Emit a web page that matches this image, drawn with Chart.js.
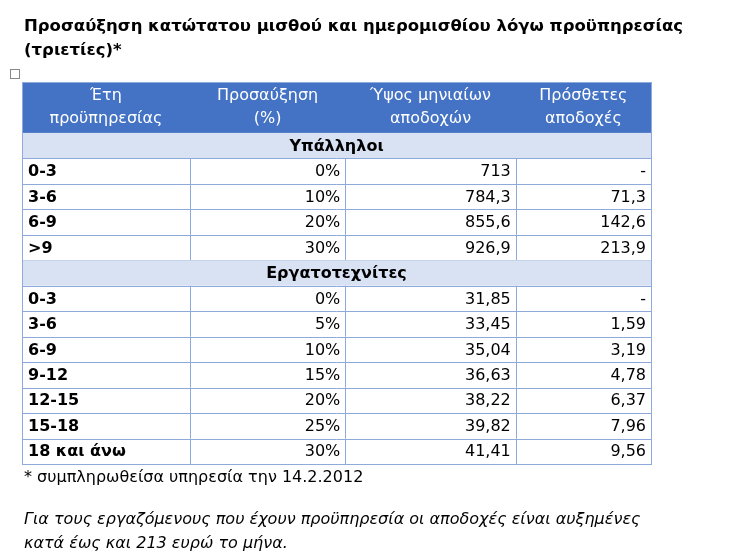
<!DOCTYPE html>
<html>
<head>
<meta charset="utf-8">
<script src="https://cdn.jsdelivr.net/npm/chart.js@4/dist/chart.umd.min.js"></script>
<style>
  body { margin: 0; background: #fff; font-family: "DejaVu Sans", sans-serif; }
  #wrap { position: relative; width: 741px; height: 554px; }
  canvas { position: absolute; left: 0; top: 0; }
  .t { position: absolute; left: 24px; color: #000; white-space: nowrap; }
</style>
</head>
<body>
<div id="wrap">
  <canvas id="tbl" width="741" height="554"></canvas>
  <div class="t" style="top:16px;font-weight:bold;font-size:16.5px;">Προσαύξηση κατώτατου μισθού και ημερομισθίου λόγω προϋπηρεσίας</div>
  <div class="t" style="top:40px;font-weight:bold;font-size:16.5px;">(τριετίες)*</div>
  <div class="t" style="top:467px;font-size:16px;">* συμπληρωθείσα υπηρεσία την 14.2.2012</div>
  <div class="t" style="top:509px;font-size:16px;font-style:italic;">Για τους εργαζόμενους που έχουν προϋπηρεσία οι αποδοχές είναι αυξημένες</div>
  <div class="t" style="top:533px;font-size:16px;font-style:italic;">κατά έως και 213 ευρώ το μήνα.</div>
</div>
<script>
// table content
const headers = [['Έτη', 'προϋπηρεσίας'], ['Προσαύξηση', '(%)'], ['Ύψος μηνιαίων', 'αποδοχών'], ['Πρόσθετες', 'αποδοχές']];
const sections = ['Υπάλληλοι', 'Εργατοτεχνίτες'];

const empYears = ['0-3', '3-6', '6-9', '>9'];
const empRaise = ['0%', '10%', '20%', '30%'];
const empPay = ['713', '784,3', '855,6', '926,9'];
const empExtra = ['-', '71,3', '142,6', '213,9'];

const wrkYears = ['0-3', '3-6', '6-9', '9-12', '12-15', '15-18', '18 και άνω'];
const wrkRaise = ['0%', '5%', '10%', '15%', '20%', '25%', '30%'];
const wrkPay = ['31,85', '33,45', '35,04', '36,63', '38,22', '39,82', '41,41'];
const wrkExtra = ['-', '1,59', '3,19', '4,78', '6,37', '7,96', '9,56'];

// column edges in x-scale units (0..100)
const colEdges = [0, 26.7, 51.4, 78.5, 100];

// build row list: header takes 2 units, then section + data rows
const rows = [];
rows.push({ kind: 'section', text: sections[0] });
empYears.forEach((y, i) => rows.push({ kind: 'data', cells: [y, empRaise[i], empPay[i], empExtra[i]] }));
rows.push({ kind: 'section', text: sections[1] });
wrkYears.forEach((y, i) => rows.push({ kind: 'data', cells: [y, wrkRaise[i], wrkPay[i], wrkExtra[i]] }));
const totalUnits = 2 + rows.length;

const tablePlugin = {
  id: 'tablePlugin',
  afterDraw(chart) {
    const ctx = chart.ctx;
    const xs = chart.scales.x, ys = chart.scales.y;
    const X = v => xs.getPixelForValue(v);
    const Y = v => ys.getPixelForValue(v);
    const border = '#8EAADB';
    ctx.save();

    // header
    ctx.fillStyle = '#4472C4';
    ctx.fillRect(X(0), Y(0), X(100) - X(0), Y(2) - Y(0));
    ctx.fillStyle = '#fff';
    ctx.font = '16px "DejaVu Sans", sans-serif';
    ctx.textAlign = 'center';
    ctx.textBaseline = 'middle';
    headers.forEach((h, c) => {
      const cx = (X(colEdges[c]) + X(colEdges[c + 1])) / 2;
      ctx.fillText(h[0], cx, Y(0.5) + 1);
      ctx.fillText(h[1], cx, Y(1.5) - 1);
    });

    rows.forEach((r, i) => {
      const top = Y(2 + i), bot = Y(3 + i), mid = (top + bot) / 2 + 1;
      if (r.kind === 'section') {
        ctx.fillStyle = '#D9E2F3';
        ctx.fillRect(X(0), top, X(100) - X(0), bot - top);
        ctx.fillStyle = '#000';
        ctx.font = 'bold 16px "DejaVu Sans", sans-serif';
        ctx.textAlign = 'center';
        ctx.fillText(r.text, (X(0) + X(100)) / 2, mid);
      } else {
        ctx.fillStyle = '#000';
        r.cells.forEach((t, c) => {
          if (c === 0) {
            ctx.font = 'bold 16px "DejaVu Sans", sans-serif';
            ctx.textAlign = 'left';
            ctx.fillText(t, X(colEdges[0]) + 6, mid);
          } else {
            ctx.font = '16px "DejaVu Sans", sans-serif';
            ctx.textAlign = 'right';
            ctx.fillText(t, X(colEdges[c + 1]) - 5, mid);
          }
        });
        ctx.strokeStyle = border;
        ctx.lineWidth = 1;
        colEdges.slice(1, -1).forEach(e => {
          ctx.beginPath(); ctx.moveTo(Math.round(X(e)) + 0.5, top); ctx.lineTo(Math.round(X(e)) + 0.5, bot); ctx.stroke();
        });
      }
      ctx.strokeStyle = border;
      ctx.beginPath(); ctx.moveTo(X(0), Math.round(bot) + 0.5); ctx.lineTo(X(100), Math.round(bot) + 0.5); ctx.stroke();
    });
    // outer border
    ctx.strokeStyle = border;
    ctx.strokeRect(Math.round(X(0)) + 0.5, Math.round(Y(0)) + 0.5, X(100) - X(0), Y(totalUnits) - Y(0));
    // small move handle
    ctx.strokeStyle = '#888';
    ctx.strokeRect(10.5, 69.5, 9, 9);
    ctx.restore();
  }
};

new Chart(document.getElementById('tbl'), {
  type: 'scatter',
  data: { datasets: [{ data: [], pointRadius: 0 }] },
  options: {
    responsive: false,
    animation: false,
    layout: { padding: { left: 22, right: 90, top: 82, bottom: 90 } },
    plugins: { legend: { display: false }, tooltip: { enabled: false } },
    scales: {
      x: { type: 'linear', min: 0, max: 100, display: false },
      y: { type: 'linear', min: 0, max: totalUnits, reverse: true, display: false }
    }
  },
  plugins: [tablePlugin]
});
</script>
</body>
</html>
